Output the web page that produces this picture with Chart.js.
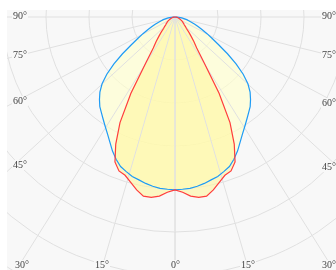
<!DOCTYPE html>
<html>
<head>
<meta charset="utf-8">
<script src="https://cdn.jsdelivr.net/npm/chart.js@4.4.0/dist/chart.umd.min.js"></script>
<style>
  body { margin: 0; width: 336px; height: 270px; background: #fff; position: relative; overflow: hidden; }
  #plot { position: absolute; left: 7px; top: 10px; width: 329px; height: 260px; overflow: hidden; background: #f8f8f8; }
  #plot canvas { position: absolute; left: -176px; top: -337px; }
  .lbl { position: absolute; font-family: "Liberation Serif", "DejaVu Serif", serif; font-size: 10px; line-height: 10px; color: #444; background: #f8f8f8; padding: 0 1px; }
</style>
</head>
<body>
<div id="plot"><canvas id="myChart" width="688" height="688"></canvas></div>

<span class="lbl" style="left:12px;top:11px">90°</span>
<span class="lbl" style="left:12px;top:50px">75°</span>
<span class="lbl" style="left:12px;top:96px">60°</span>
<span class="lbl" style="left:12px;top:160px">45°</span>
<span class="lbl" style="left:321px;top:11px">90°</span>
<span class="lbl" style="left:321px;top:50px">75°</span>
<span class="lbl" style="left:321px;top:98px">60°</span>
<span class="lbl" style="left:321px;top:162px">45°</span>
<span class="lbl" style="left:14px;top:260px">30°</span>
<span class="lbl" style="left:94px;top:260px">15°</span>
<span class="lbl" style="left:170px;top:260px">0°</span>
<span class="lbl" style="left:240px;top:260px">15°</span>
<span class="lbl" style="left:321px;top:260px">30°</span>

<script>
// gamma angles, 0 = straight down, step 2.5 deg
const gammaAngles = [0, 2.5, 5, 7.5, 10, 12.5, 15, 17.5, 20, 22.5, 25, 27.5, 30, 32.5, 35, 37.5, 40, 42.5, 45,
  47.5, 50, 52.5, 55, 57.5, 60, 62.5, 65, 67.5, 70, 72.5, 75, 77.5, 80, 82.5, 85, 87.5, 90];

// cd/klm, red curve (C0-C180)
const planeC0 = [402, 408, 418, 423, 423, 412, 398, 386, 381, 365, 326, 277, 205, 126, 88, 72, 58, 47, 37,
  33, 28, 26, 23, 21, 19, 16, 14, 12, 11, 9, 7, 6, 5, 3, 2, 1, 0];

// cd/klm, blue curve (C90-C270)
const planeC90 = [402, 401, 400, 397, 393, 388, 384, 377, 370, 358, 344, 328, 314, 302, 291, 281, 272, 260, 247,
  230, 207, 179, 149, 121, 100, 84, 70, 58, 49, 40, 33, 28, 21, 16, 9, 5, 0];

const ringValues = [100, 200, 300, 400, 500, 600, 700, 800];
const gridAngles = [0, 15, 30, 45, 60, 75, 90];

// full circle for the radar scale: left half 0..180, right half 180..0
const labels = [];
const dataC0 = [];
const dataC90 = [];
const steps = (gammaAngles.length - 1) * 4; // 144 points round
for (let i = 0; i < steps; i++) {
  const k = Math.min(i, steps - i);
  labels.push(k * (gammaAngles[1] - gammaAngles[0]));
  dataC0.push(k < planeC0.length ? planeC0[k] : 0);
  dataC90.push(k < planeC90.length ? planeC90[k] : 0);
}

// the spokes in the picture are a bit squashed vertically
const spokes = {
  id: "spokes",
  beforeDatasetsDraw(chart) {
    const r = chart.scales.r;
    const c = chart.ctx;
    const len = r.drawingArea;
    c.save();
    c.strokeStyle = "#e0e0e0";
    c.lineWidth = 1;
    gridAngles.forEach((g) => {
      const a = g * Math.PI / 180;
      [-1, 1].forEach((side) => {
        c.beginPath();
        c.moveTo(r.xCenter, r.yCenter);
        c.lineTo(r.xCenter + side * Math.sin(a) * len, r.yCenter + Math.cos(a) * len * 0.92);
        c.stroke();
      });
    });
    c.restore();
  },
};

const ctx = document.getElementById("myChart");

new Chart(ctx, {
  type: "radar",
  data: {
    labels: labels,
    datasets: [
      {
        label: "C0-C180",
        data: dataC0,
        borderColor: "rgb(255, 60, 60)",
        backgroundColor: "rgba(255, 246, 160, 0.6)",
        borderWidth: 1.2,
        fill: true,
      },
      {
        label: "C90-C270",
        data: dataC90,
        borderColor: "rgb(30, 155, 245)",
        backgroundColor: "rgba(255, 255, 205, 0.65)",
        borderWidth: 1.2,
        fill: true,
      },
    ],
  },
  options: {
    responsive: false,
    animation: false,
    layout: { padding: 0 },
    elements: {
      point: { radius: 0 },
      line: { tension: 0 },
    },
    scales: {
      r: {
        min: 0,
        max: ringValues[ringValues.length - 1],
        startAngle: 180,
        ticks: { display: false, stepSize: ringValues[0] },
        pointLabels: { display: false },
        grid: { circular: true, color: "#e0e0e0", lineWidth: 1 },
        angleLines: { display: false },
      },
    },
    plugins: {
      legend: { display: false },
      tooltip: { enabled: false },
      filler: { drawTime: "beforeDatasetsDraw" },
    },
  },
  plugins: [spokes],
});
</script>
</body>
</html>
